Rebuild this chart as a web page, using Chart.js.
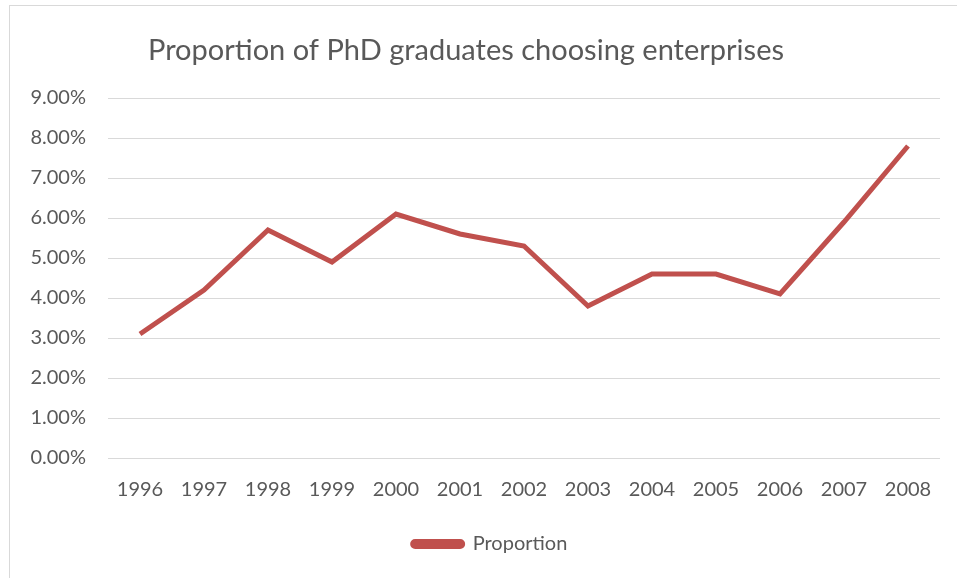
<!DOCTYPE html>
<html>
<head>
<meta charset="utf-8">
<script src="https://cdn.jsdelivr.net/npm/chart.js@4"></script>
<style>
    html, body { margin: 0; padding: 0; background: #fff; overflow: hidden; }
    .frame { position: absolute; left: 9px; top: 5px; width: 1000px; height: 700px; border: 1px solid #d9d9d9; }
    .chart-box { position: absolute; left: 0; top: 0; width: 957px; height: 578px; }
</style>
</head>
<body>
<div class="frame"></div>
<div class="chart-box"><canvas id="phdChart"></canvas></div>
<script>
// Chart data
const years = ['1996', '1997', '1998', '1999', '2000', '2001', '2002', '2003', '2004', '2005', '2006', '2007', '2008'];
const proportion = [3.1, 4.2, 5.7, 4.9, 6.1, 5.6, 5.3, 3.8, 4.6, 4.6, 4.1, 5.9, 7.8];
const chartTitle = 'Proportion of PhD graduates choosing enterprises';
const seriesName = 'Proportion';

const textColor = '#595959';
const lineColor = '#C0504D';
const fontFamily = 'Lato, "Open Sans", sans-serif';

// Title drawn off-center like the original
const titlePlugin = {
    id: 'titleText',
    afterDraw(chart) {
        const ctx = chart.ctx;
        ctx.save();
        ctx.font = '29px ' + fontFamily;
        ctx.fillStyle = textColor;
        ctx.textAlign = 'center';
        ctx.textBaseline = 'middle';
        ctx.fillText(chartTitle, 466, 51);
        ctx.restore();
    }
};

// nudge the legend a little to the right
const legendShift = {
    id: 'legendShift',
    afterLayout(chart) {
        if (chart.legend) {
            chart.legend.left += 10;
            chart.legend.right += 10;
        }
    }
};

const ctx = document.getElementById('phdChart').getContext('2d');
new Chart(ctx, {
    type: 'line',
    data: {
        labels: years,
        datasets: [{
            label: seriesName,
            data: proportion,
            borderColor: lineColor,
            backgroundColor: lineColor,
            borderWidth: 5,
            pointRadius: 0,
            tension: 0,
            fill: false
        }]
    },
    options: {
        responsive: true,
        maintainAspectRatio: false,
        animation: false,
        layout: { padding: { top: 98, left: 20, right: 17, bottom: 14 } },
        plugins: {
            title: { display: false },
            tooltip: { enabled: false },
            legend: {
                position: 'bottom',
                labels: {
                    color: textColor,
                    font: { family: fontFamily, size: 20 },
                    boxWidth: 50,
                    boxHeight: 5,
                    useBorderRadius: true,
                    borderRadius: 2.5,
                    padding: 10
                }
            }
        },
        scales: {
            x: {
                offset: true,
                grid: { display: false, drawTicks: false },
                border: { display: false },
                ticks: {
                    color: textColor,
                    font: { family: fontFamily, size: 20 },
                    padding: 20,
                    maxRotation: 0,
                    autoSkip: false
                },
                afterFit(scale) { scale.height = 66; }
            },
            y: {
                min: 0,
                max: 9,
                grid: { color: '#d9d9d9', lineWidth: 1, drawTicks: false },
                border: { display: false },
                ticks: {
                    stepSize: 1,
                    color: textColor,
                    font: { family: fontFamily, size: 20 },
                    padding: 22,
                    callback: function (value) { return value.toFixed(2) + '%'; }
                },
                afterFit(scale) { scale.width = 88; }
            }
        }
    },
    plugins: [titlePlugin, legendShift]
});
</script>
</body>
</html>
